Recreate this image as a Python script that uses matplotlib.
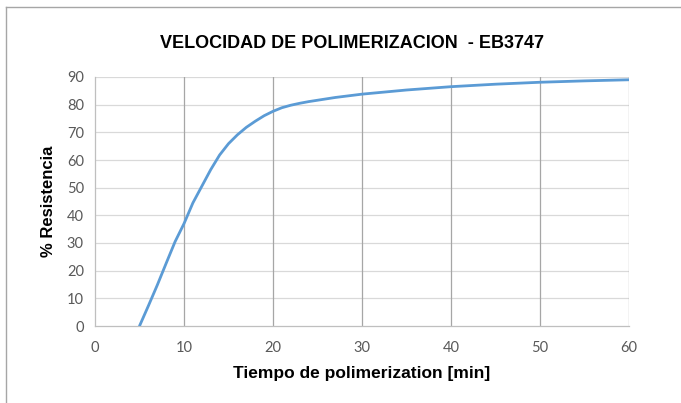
import matplotlib
matplotlib.use("Agg")
import matplotlib.pyplot as plt
from matplotlib.lines import Line2D

# values
tiempo = [5, 6, 7, 8, 9, 10, 11, 12, 13, 14, 15, 16, 17, 18, 19, 20,
          21, 22, 23, 24, 25, 27, 30, 35, 40, 45, 50, 55, 60]
resistencia = [0, 7.3, 14.8, 22.7, 30.5, 37, 44.5, 50.5, 56.5, 61.8, 65.9, 69.1, 71.8, 74, 76, 77.6,
               78.9, 79.8, 80.5, 81.1, 81.6, 82.6, 83.8, 85.3, 86.5, 87.4, 88.1, 88.6, 89]

x_ticks = [0, 10, 20, 30, 40, 50, 60]
y_ticks = [0, 10, 20, 30, 40, 50, 60, 70, 80, 90]

titulo = "VELOCIDAD DE POLIMERIZACION  - EB3747"
x_label = "Tiempo de polimerization [min]"
y_label = "% Resistencia"

fig = plt.figure(figsize=(6.81, 4.03), dpi=100)
ax = fig.add_axes([95 / 681, 77 / 403, 534 / 681, 249 / 403])

ax.plot(tiempo, resistencia, color="#5B9BD5", lw=2.0, solid_capstyle="round",
        solid_joinstyle="round", zorder=3)

ax.set_xlim(0, 60)
ax.set_ylim(0, 90)
ax.set_xticks(x_ticks)
ax.set_yticks(y_ticks)
ax.tick_params(length=0, labelsize=10.5, labelcolor="#595959")
ax.tick_params(axis="x", pad=11)
ax.tick_params(axis="y", pad=8)
for lab in ax.get_xticklabels() + ax.get_yticklabels():
    lab.set_family("Lato")

for y in y_ticks[1:]:
    ax.axhline(y, color="#D9D9D9", lw=0.9, zorder=1)
for x in x_ticks[1:]:
    ax.axvline(x, color="#A6A6A6", lw=0.9, zorder=2)

for side in ("top", "right"):
    ax.spines[side].set_visible(False)
for side in ("left", "bottom"):
    ax.spines[side].set_color("#BFBFBF")
    ax.spines[side].set_linewidth(0.9)

ax.set_xlabel(x_label, fontsize=12.5, fontweight="bold", family="Liberation Sans", labelpad=8)
ax.set_ylabel(y_label, fontsize=12, fontweight="bold", family="Liberation Sans", labelpad=8)
fig.text(352 / 681, 1 - 43 / 403, titulo, ha="center", va="center",
         fontsize=13, fontweight="bold", family="Liberation Sans")

# chart frame (top and left edges visible in the screenshot)
fig.add_artist(Line2D([6 / 681, 6 / 681], [0, 1 - 7 / 403], transform=fig.transFigure,
                      color="#A6A6A6", lw=1.0))
fig.add_artist(Line2D([6 / 681, 1], [1 - 7 / 403, 1 - 7 / 403], transform=fig.transFigure,
                      color="#A6A6A6", lw=1.0))

fig.savefig("out.png", dpi=100)
